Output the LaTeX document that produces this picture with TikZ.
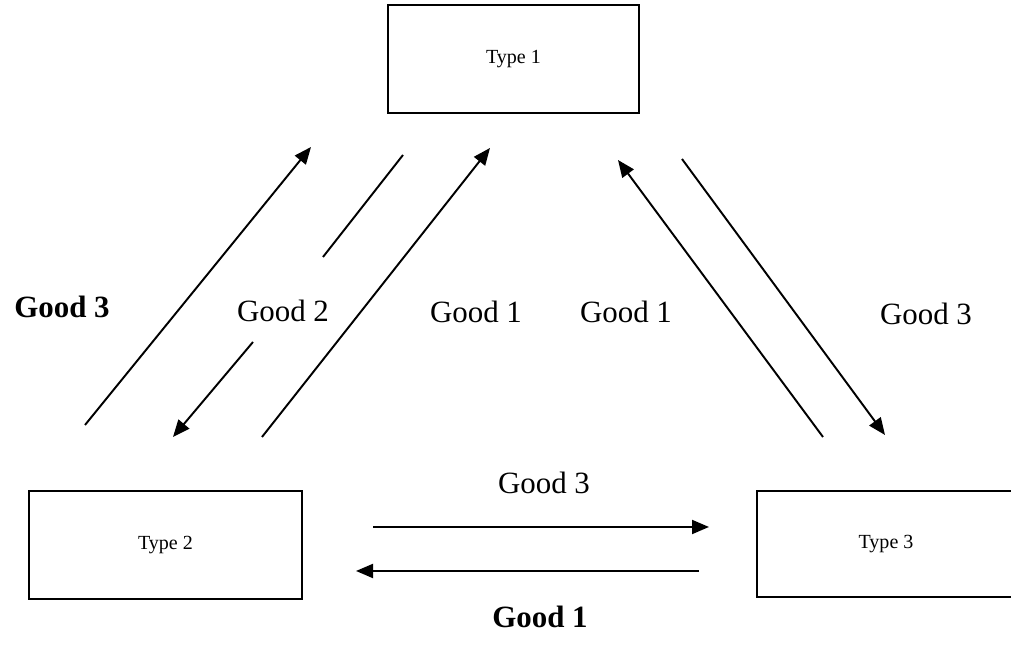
\documentclass[tikz,border=0pt]{standalone}
\usepackage{fontspec}
\setmainfont{Liberation Serif}
\usepackage{tikz}
\usetikzlibrary{arrows.meta}

\begin{document}
\begin{tikzpicture}[>={Triangle[length=3.4mm,width=2.8mm]},line width=1.1pt,
  typebox/.style={draw,line width=1.3pt,minimum height=2.16cm,font=\fontsize{11.4}{13}\selectfont},
  goodlbl/.style={font=\fontsize{17.6}{20}\selectfont,inner sep=0pt}]
\useasboundingbox (0,0) rectangle (20.22,12.94);
% the three types
\node[typebox,minimum width=5.02cm] (t1) at (10.27,11.76) {Type 1};
\node[typebox,minimum width=5.46cm] (t2) at (3.31,2.04) {Type 2};
\node[typebox,minimum width=5.16cm,minimum height=2.12cm] (t3) at (17.72,2.06) {Type 3};
% ends of the trade arrows
\coordinate (g3a) at (1.70,4.44);
\coordinate (g3b) at (6.22,10.00);
\coordinate (g2a) at (8.06,9.84);
\coordinate (g2b) at (6.46,7.80);
\coordinate (g2c) at (5.06,6.10);
\coordinate (g2d) at (3.46,4.20);
\coordinate (g1a) at (5.24,4.20);
\coordinate (g1b) at (9.80,9.98);
\coordinate (g1c) at (16.46,4.20);
\coordinate (g1d) at (12.36,9.74);
\coordinate (g3c) at (13.64,9.76);
\coordinate (g3d) at (17.70,4.24);
\coordinate (h3a) at (7.46,2.40);
\coordinate (h3b) at (14.18,2.40);
\coordinate (h1a) at (13.98,1.52);
\coordinate (h1b) at (7.12,1.52);
% arrows
\draw[->] (g3a) -- (g3b);
\draw (g2a) -- (g2b);
\draw[->] (g2c) -- (g2d);
\draw[->] (g1a) -- (g1b);
\draw[->] (g1c) -- (g1d);
\draw[->] (g3c) -- (g3d);
\draw[->] (h3a) -- (h3b);
\draw[->] (h1a) -- (h1b);
% goods
\node[goodlbl,font=\fontsize{17.6}{20}\selectfont\bfseries] (lg3) at (1.24,6.80) {Good 3};
\node[goodlbl] (lg2) at (5.66,6.72) {Good 2};
\node[goodlbl] (lg1a) at (9.52,6.70) {Good 1};
\node[goodlbl] (lg1b) at (12.52,6.70) {Good 1};
\node[goodlbl] (lg3r) at (18.52,6.66) {Good 3};
\node[goodlbl] (lg3h) at (10.88,3.28) {Good 3};
\node[goodlbl,font=\fontsize{17.6}{20}\selectfont\bfseries] (lg1h) at (10.80,0.60) {Good 1};
\end{tikzpicture}
\end{document}
